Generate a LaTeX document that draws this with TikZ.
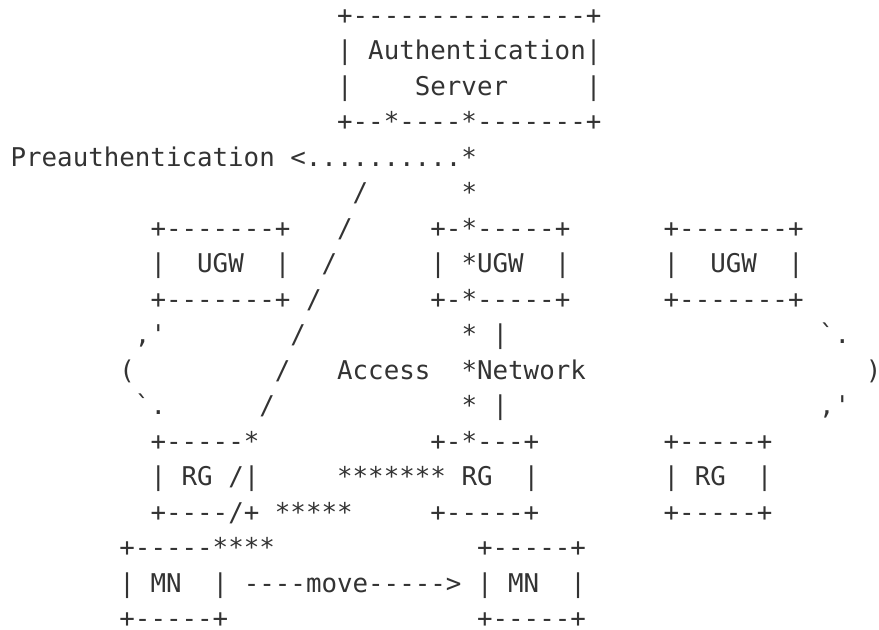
\documentclass[tikz,border=0pt]{standalone}
\usepackage{fontspec}
\setmonofont{DejaVu Sans Mono}
\definecolor{ink}{HTML}{333333}
\begin{document}
\begin{tikzpicture}[
  x=7.775pt, y=-17.75pt,
  every node/.style={font=\ttfamily\fontsize{12.91pt}{17.75pt}\selectfont,
    anchor=base west, inner sep=0pt, text depth=0pt, text=ink}
]
\useasboundingbox (-0.656,-0.69) rectangle (55.873,17.056);
\node (srvtop)  at (21,0) {+---------------+};
\node (srvname) at (21,1) {|~Authentication|};
\node (srvmid)  at (21,2) {|~~~~Server~~~~~|};
\node (srvbot)  at (21,3) {+--*----*-------+};
\node (preauth) at (0,4) {Preauthentication~<..........*};
\node (link5)   at (29,5) {*};
\node (sl5) at (22,5) {/};
\node (sl6) at (21,6) {/};
\node (sl7) at (20,7) {/};
\node (sl8) at (19,8) {/};
\node (sl9) at (18,9) {/};
\node (sl10) at (17,10) {/};
\node (sl11) at (16,11) {/};
\node (ugwAtop) at (9,6) {+-------+};
\node (ugwA)    at (9,7) {|~~UGW~~|};
\node (ugwAbot) at (9,8) {+-------+};
\node (ugwBtop) at (27,6) {+-*-----+};
\node (ugwB)    at (27,7) {|~*UGW~~|};
\node (ugwBbot) at (27,8) {+-*-----+};
\node (ugwCtop) at (42,6) {+-------+};
\node (ugwC)    at (42,7) {|~~UGW~~|};
\node (ugwCbot) at (42,8) {+-------+};
\node (cloudNW) at (8,9) {,'};
\node (cloudW)  at (7,10) {(};
\node (cloudSW) at (8,11) {`.};
\node (cloudNE) at (52,9) {`.};
\node (cloudE)  at (55,10) {)};
\node (cloudSE) at (52,11) {,'};
\node (access)  at (21,10) {Access};
\node (net9)    at (29,9) {*~|};
\node (network) at (29,10) {*Network};
\node (net11)   at (29,11) {*~|};
\node (rgAtop) at (9,12) {+-----*};
\node (rgA)    at (9,13) {|~RG~/|};
\node (rgAbot) at (9,14) {+----/+};
\node (rgBtop) at (27,12) {+-*---+};
\node (stars13) at (21,13) {*******};
\node (rgB)    at (29,13) {RG~~|};
\node (rgBbot) at (27,14) {+-----+};
\node (stars14) at (17,14) {*****};
\node (rgCtop) at (42,12) {+-----+};
\node (rgC)    at (42,13) {|~RG~~|};
\node (rgCbot) at (42,14) {+-----+};
\node (mnAtop) at (7,15) {+-----****};
\node (mnA)    at (7,16) {|~MN~~|};
\node (mnAbot) at (7,17) {+-----+};
\node (move)   at (15,16) {----move----->};
\node (mnBtop) at (30,15) {+-----+};
\node (mnB)    at (30,16) {|~MN~~|};
\node (mnBbot) at (30,17) {+-----+};
\end{tikzpicture}
\end{document}
